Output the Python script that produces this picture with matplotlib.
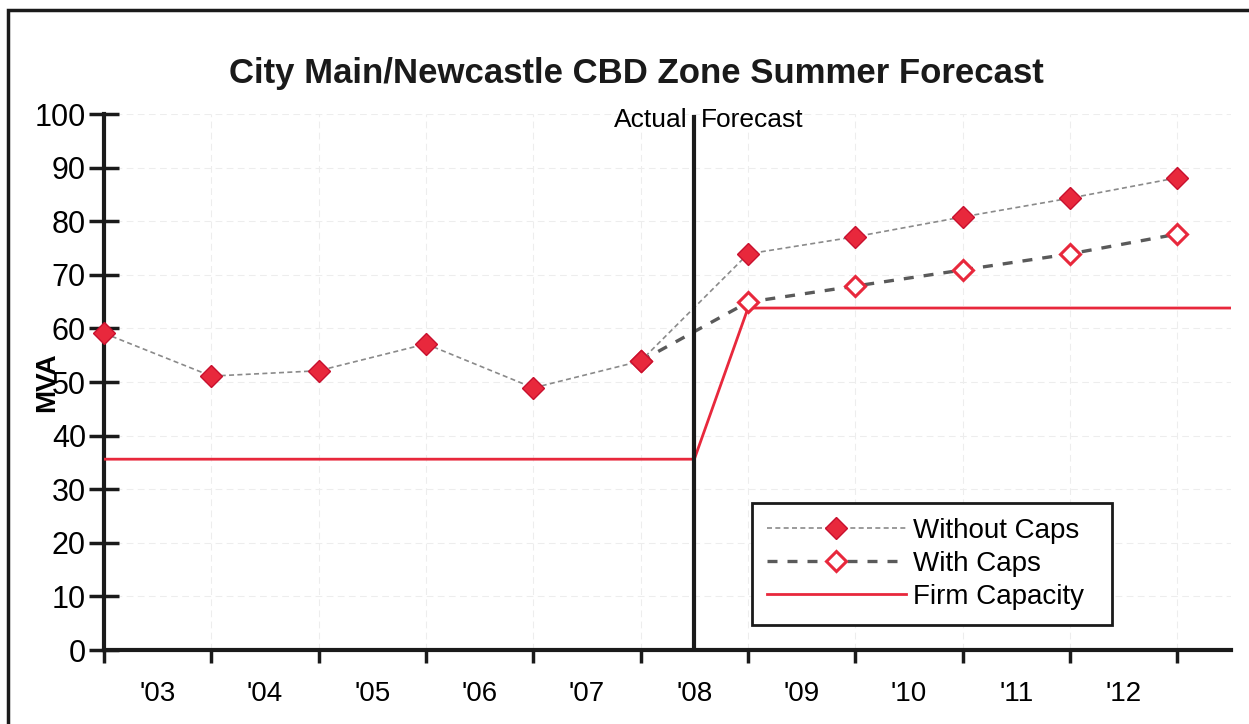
import matplotlib
matplotlib.use("Agg")
import matplotlib.pyplot as plt
from matplotlib.patches import Rectangle
import numpy as np

plt.rcParams['font.family'] = ['Liberation Sans Narrow', 'Liberation Sans', 'DejaVu Sans']

years = ["'03", "'04", "'05", "'06", "'07", "'08", "'09", "'10", "'11", "'12"]
without_caps = [59.1, 51.1, 52.1, 57.1, 48.9, 53.9, 73.9, 77.1, 80.8, 84.3, 88.1]
with_caps = [None, None, None, None, None, 53.9, 64.9, 67.9, 70.9, 73.9, 77.6]
firm_x = [0, 5.5, 6, 10.5]
firm_y = [35.6, 35.6, 63.8, 63.8]

red = '#e8283c'
fig = plt.figure(figsize=(12.49, 7.24), dpi=100)
ax = fig.add_axes([104/1249, 1-650/724, (1231-104)/1249, (650-114)/724])

# frame around the figure (cut off at right and bottom, like the scan)
fig.patches.append(Rectangle((8/1249, -0.1), 1.2, (724-10)/724 + 0.1, transform=fig.transFigure,
                             fill=False, ec='#1a1a1a', lw=2.5))

x = np.arange(len(without_caps))
wc = np.array([np.nan if v is None else v for v in with_caps])

ax.plot(firm_x, firm_y, color=red, lw=2, label='Firm Capacity', zorder=3)
ax.plot(x, wc, ls=(0, (3, 3)), color='#5a5a5a', lw=2.4, marker='D', ms=10,
        mfc='white', mec=red, mew=2.2, label='With Caps', zorder=4, clip_on=False)
ax.plot(x, without_caps, ls=(0, (3, 2)), color='#8a8a8a', lw=1.2, marker='D', ms=11,
        mfc=red, mec='#c8102e', mew=1, label='Without Caps', zorder=5, clip_on=False)

ax.axvline(5.5, ymin=0, ymax=0.995, color='#1a1a1a', lw=3, zorder=6)
ax.text(5.44, 97.6, 'Actual', ha='right', va='baseline', fontsize=19)
ax.text(5.56, 97.6, 'Forecast', ha='left', va='baseline', fontsize=19)

ax.set_xlim(0, 10.5)
ax.set_ylim(0, 100)
ax.set_yticks(range(0, 101, 10))
ax.set_xticks(range(0, 11))
ax.set_xticklabels([])
ax.set_xticks(np.arange(0.5, 10, 1), minor=True)
ax.set_xticklabels(years, minor=True)
ax.tick_params(axis='x', which='minor', length=0, labelsize=20, pad=22)
ax.tick_params(axis='x', which='major', direction='out', length=9, width=2.5, color='#1a1a1a')
ax.tick_params(axis='y', direction='inout', length=22, width=2.5, color='#1a1a1a',
               labelsize=22, pad=2)
for s in ['top', 'right']:
    ax.spines[s].set_visible(False)
for s in ['left', 'bottom']:
    ax.spines[s].set_linewidth(3)
    ax.spines[s].set_color('#1a1a1a')

ax.grid(True, which='major', color='#ededed', lw=0.8, ls=(0, (6, 4)))
ax.set_axisbelow(True)

ax.set_ylabel('MVA', fontsize=20, fontweight='bold', labelpad=-18)

fig.text(636/1249, 1-74/724, 'City Main/Newcastle CBD Zone Summer Forecast',
         ha='center', va='center', fontsize=25, fontweight='bold', color='#1a1a1a')

h, l = ax.get_legend_handles_labels()
order = [2, 1, 0]
leg = ax.legend([h[i] for i in order], [l[i] for i in order], loc='lower left',
                bbox_to_anchor=((752-104)/1127, (650-625)/536, (1112-752)/1127, (625-503)/536),
                mode='expand', fontsize=20, frameon=True, fancybox=False, framealpha=1,
                edgecolor='#1a1a1a', handlelength=5, handletextpad=0.25,
                borderpad=0.54, labelspacing=0.25, borderaxespad=0)
leg.get_frame().set_linewidth(2)

fig.savefig('out.png', dpi=100, facecolor='white')
